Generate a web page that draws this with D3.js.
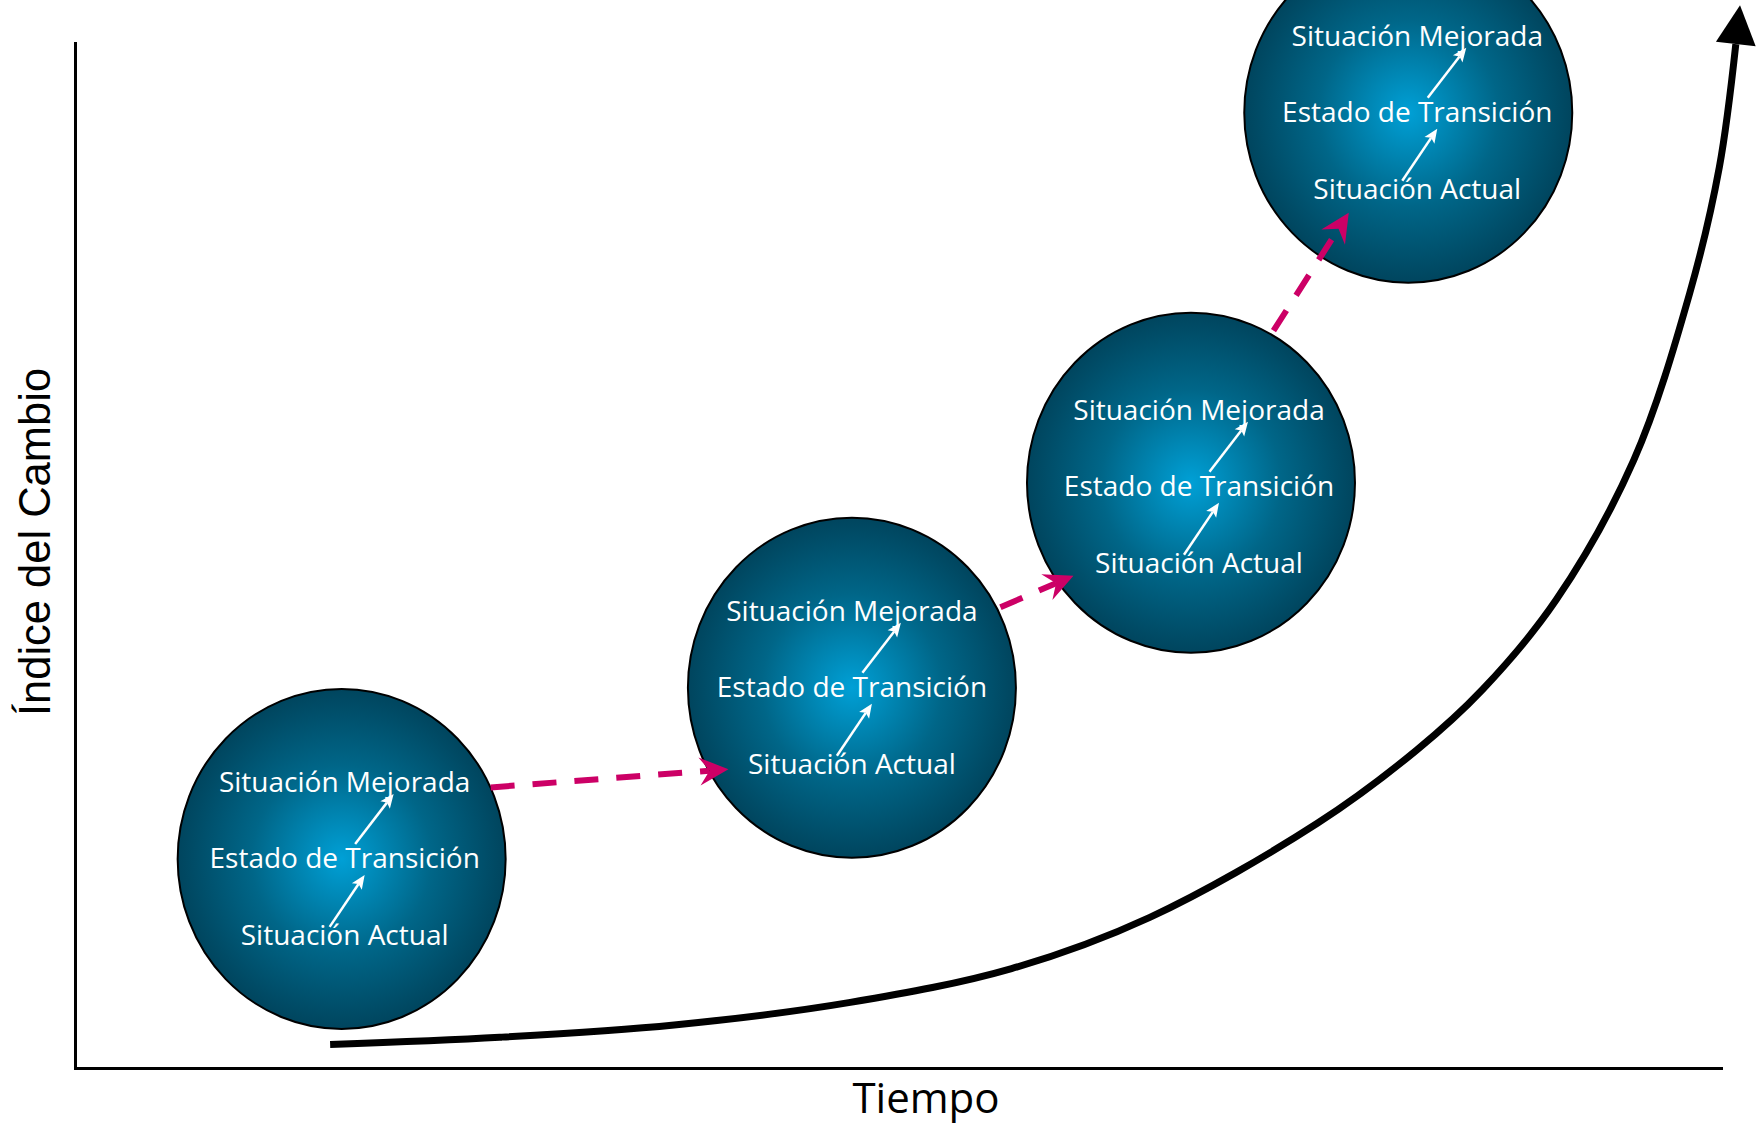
<!DOCTYPE html>
<html>
<head>
<meta charset="utf-8">
<script src="https://cdn.jsdelivr.net/npm/d3@7"></script>
<style>
  html, body { margin: 0; padding: 0; background: #ffffff; }
  svg { display: block; }
</style>
</head>
<body>
<svg id="chart" width="1762" height="1126"></svg>
<script>
// Etapas del proceso de cambio: posición en el tiempo y en el índice del cambio (0–100)
const stageTime  = [16.2, 47.2, 67.8, 81.0];
const stageIndex = [20.4, 37.1, 57.1, 93.2];

// Niveles dentro de cada etapa, de abajo hacia arriba
const levels = ["Situación Actual", "Estado de Transición", "Situación Mejorada"];

// Curva de crecimiento del índice del cambio a lo largo del tiempo
const curveTime  = [15.5, 25.8, 36.4, 47.1, 56.9, 65.3, 75.5, 81.5, 85.5, 90.0, 94.7, 98.1, 99.9, 100.9];
const curveIndex = [2.3, 3.0, 4.2, 6.4, 9.7, 14.7, 23.9, 31.0, 36.9, 45.7, 59.3, 75.6, 87.9, 99.9];

// Títulos de los ejes
const xTitle = "Tiempo";
const yTitle = "Índice del Cambio";

// ---- layout ----
const RX = 164, RY = 170;                  // semiejes de cada esfera
const LABEL_DX = [3, 0, 8, 9];             // ajuste horizontal del texto en cada esfera
const LABEL_SY = [0, 0, 4, 0];             // ajuste vertical del texto en cada esfera
const LABEL_DY = [86, 9, -67];             // línea base de cada nivel respecto al centro
const STEP_ARROWS = [                      // flechas blancas entre niveles (respecto al texto)
  [[-15, 68], [20, 16]],
  [[10.5, -15], [49, -65]]
];
const LINK_START = [[149, -71.5], [148.5, -80.5], [82.5, -152]];   // salida del conector
const LINK_END   = [[-123.5, 81.5], [-117.5, 93], [-59.5, 100]];    // punta del conector

const x = d3.scaleLinear().domain([0, 100]).range([75, 1721]);
const y = d3.scaleLinear().domain([0, 100]).range([1068, 43]);

const svg = d3.select("#chart");
const defs = svg.append("defs");

// Degradado radial de las esferas
const grad = defs.append("radialGradient")
  .attr("id", "sphere")
  .attr("cx", "50%").attr("cy", "50%").attr("r", "50%");
grad.append("stop").attr("offset", "0%").attr("stop-color", "#00a0d6");
grad.append("stop").attr("offset", "55%").attr("stop-color", "#006688");
grad.append("stop").attr("offset", "100%").attr("stop-color", "#00455e");

// Punta de la curva negra (base en el final del trazo)
defs.append("marker")
  .attr("id", "headBlack")
  .attr("markerUnits", "userSpaceOnUse")
  .attr("viewBox", "-1 -21 42 42")
  .attr("markerWidth", 42).attr("markerHeight", 42)
  .attr("refX", 0).attr("refY", 0)
  .attr("orient", "auto")
  .append("path")
  .attr("d", "M0,-20 L39,0 L0,20 Z")
  .attr("fill", "#000");

// Punta tipo "stealth" de los conectores magenta (origen en la muesca)
defs.append("marker")
  .attr("id", "headPink")
  .attr("markerUnits", "userSpaceOnUse")
  .attr("viewBox", "-12 -16 34 32")
  .attr("markerWidth", 34).attr("markerHeight", 32)
  .attr("refX", 0).attr("refY", 0)
  .attr("orient", "auto")
  .append("path")
  .attr("d", "M19,0 L-10,-14 L0,0 L-10,14 Z")
  .attr("fill", "#cc0066");

// Punta de las flechas blancas internas
defs.append("marker")
  .attr("id", "headWhite")
  .attr("markerUnits", "userSpaceOnUse")
  .attr("viewBox", "-4 -7 16 14")
  .attr("markerWidth", 16).attr("markerHeight", 14)
  .attr("refX", 0).attr("refY", 0)
  .attr("orient", "auto")
  .append("path")
  .attr("d", "M11,0 L-3,-6 L0,0 L-3,6 Z")
  .attr("fill", "#ffffff");

// ---- ejes ----
const axisStyle = g => g.select(".domain")
  .attr("stroke", "#000").attr("stroke-width", 3).attr("stroke-linecap", "square");

svg.append("g")
  .attr("transform", `translate(0,${y(0)})`)
  .call(d3.axisBottom(x).tickValues([]).tickSizeOuter(0))
  .call(axisStyle);

svg.append("g")
  .attr("transform", `translate(${x(0)},0)`)
  .call(d3.axisLeft(y).tickValues([]).tickSizeOuter(0))
  .call(axisStyle);

svg.append("text")
  .attr("x", 926).attr("y", 1113)
  .attr("text-anchor", "middle")
  .attr("font-family", "'Open Sans', sans-serif")
  .attr("font-size", 42)
  .attr("fill", "#000")
  .text(xTitle);

svg.append("text")
  .attr("transform", "translate(50,542) rotate(-90)")
  .attr("text-anchor", "middle")
  .attr("font-family", "'Liberation Sans', Arial, sans-serif")
  .attr("font-size", 43.5)
  .attr("fill", "#000")
  .text(yTitle);

// ---- curva de crecimiento ----
const curvePts = curveTime.map((t, i) => [x(t), y(curveIndex[i])]);
svg.append("path")
  .datum(curvePts)
  .attr("d", d3.line().curve(d3.curveCatmullRom.alpha(0.5)))
  .attr("fill", "none")
  .attr("stroke", "#000")
  .attr("stroke-width", 7)
  .attr("marker-end", "url(#headBlack)");

// ---- esferas ----
const stages = stageTime.map((t, i) => ({ i, cx: x(t), cy: y(stageIndex[i]) }));

const g = svg.selectAll("g.stage")
  .data(stages)
  .join("g")
  .attr("class", "stage")
  .attr("transform", d => `translate(${d.cx},${d.cy})`);

g.append("ellipse")
  .attr("rx", RX).attr("ry", RY)
  .attr("fill", "url(#sphere)")
  .attr("stroke", "#000")
  .attr("stroke-width", 2);

g.selectAll("text.level")
  .data(d => levels.map((lab, k) => ({ lab, k, dx: LABEL_DX[d.i], sy: LABEL_SY[d.i] })))
  .join("text")
  .attr("class", "level")
  .attr("x", d => d.dx)
  .attr("y", d => LABEL_DY[d.k] + d.sy)
  .attr("text-anchor", "middle")
  .attr("font-family", "'Open Sans', sans-serif")
  .attr("font-size", 28)
  .attr("fill", "#ffffff")
  .text(d => d.lab);

// Flechas blancas entre niveles (se acortan para que la punta quede en el extremo)
g.selectAll("line.step")
  .data(d => STEP_ARROWS.map(a => ({ a, dx: LABEL_DX[d.i], sy: LABEL_SY[d.i] })))
  .join("line")
  .attr("class", "step")
  .each(function (d) {
    const [p0, p1] = d.a;
    const vx = p1[0] - p0[0], vy = p1[1] - p0[1];
    const len = Math.hypot(vx, vy);
    const back = 11;
    d3.select(this)
      .attr("x1", p0[0] + d.dx).attr("y1", p0[1] + d.sy)
      .attr("x2", p1[0] + d.dx - vx / len * back)
      .attr("y2", p1[1] + d.sy - vy / len * back);
  })
  .attr("stroke", "#ffffff")
  .attr("stroke-width", 2.5)
  .attr("marker-end", "url(#headWhite)");

// ---- conectores magenta entre etapas ----
const links = d3.range(stages.length - 1).map(i => {
  const a = stages[i], b = stages[i + 1];
  return {
    x1: a.cx + LINK_START[i][0], y1: a.cy + LINK_START[i][1],
    x2: b.cx + LINK_END[i][0],   y2: b.cy + LINK_END[i][1]
  };
});

svg.selectAll("line.link")
  .data(links)
  .join("line")
  .attr("class", "link")
  .each(function (d) {
    const vx = d.x2 - d.x1, vy = d.y2 - d.y1;
    const len = Math.hypot(vx, vy);
    const back = 19;
    d3.select(this)
      .attr("x1", d.x1).attr("y1", d.y1)
      .attr("x2", d.x2 - vx / len * back)
      .attr("y2", d.y2 - vy / len * back);
  })
  .attr("stroke", "#cc0066")
  .attr("stroke-width", 6)
  .attr("stroke-dasharray", "24,18")
  .attr("marker-end", "url(#headPink)");
</script>
</body>
</html>
